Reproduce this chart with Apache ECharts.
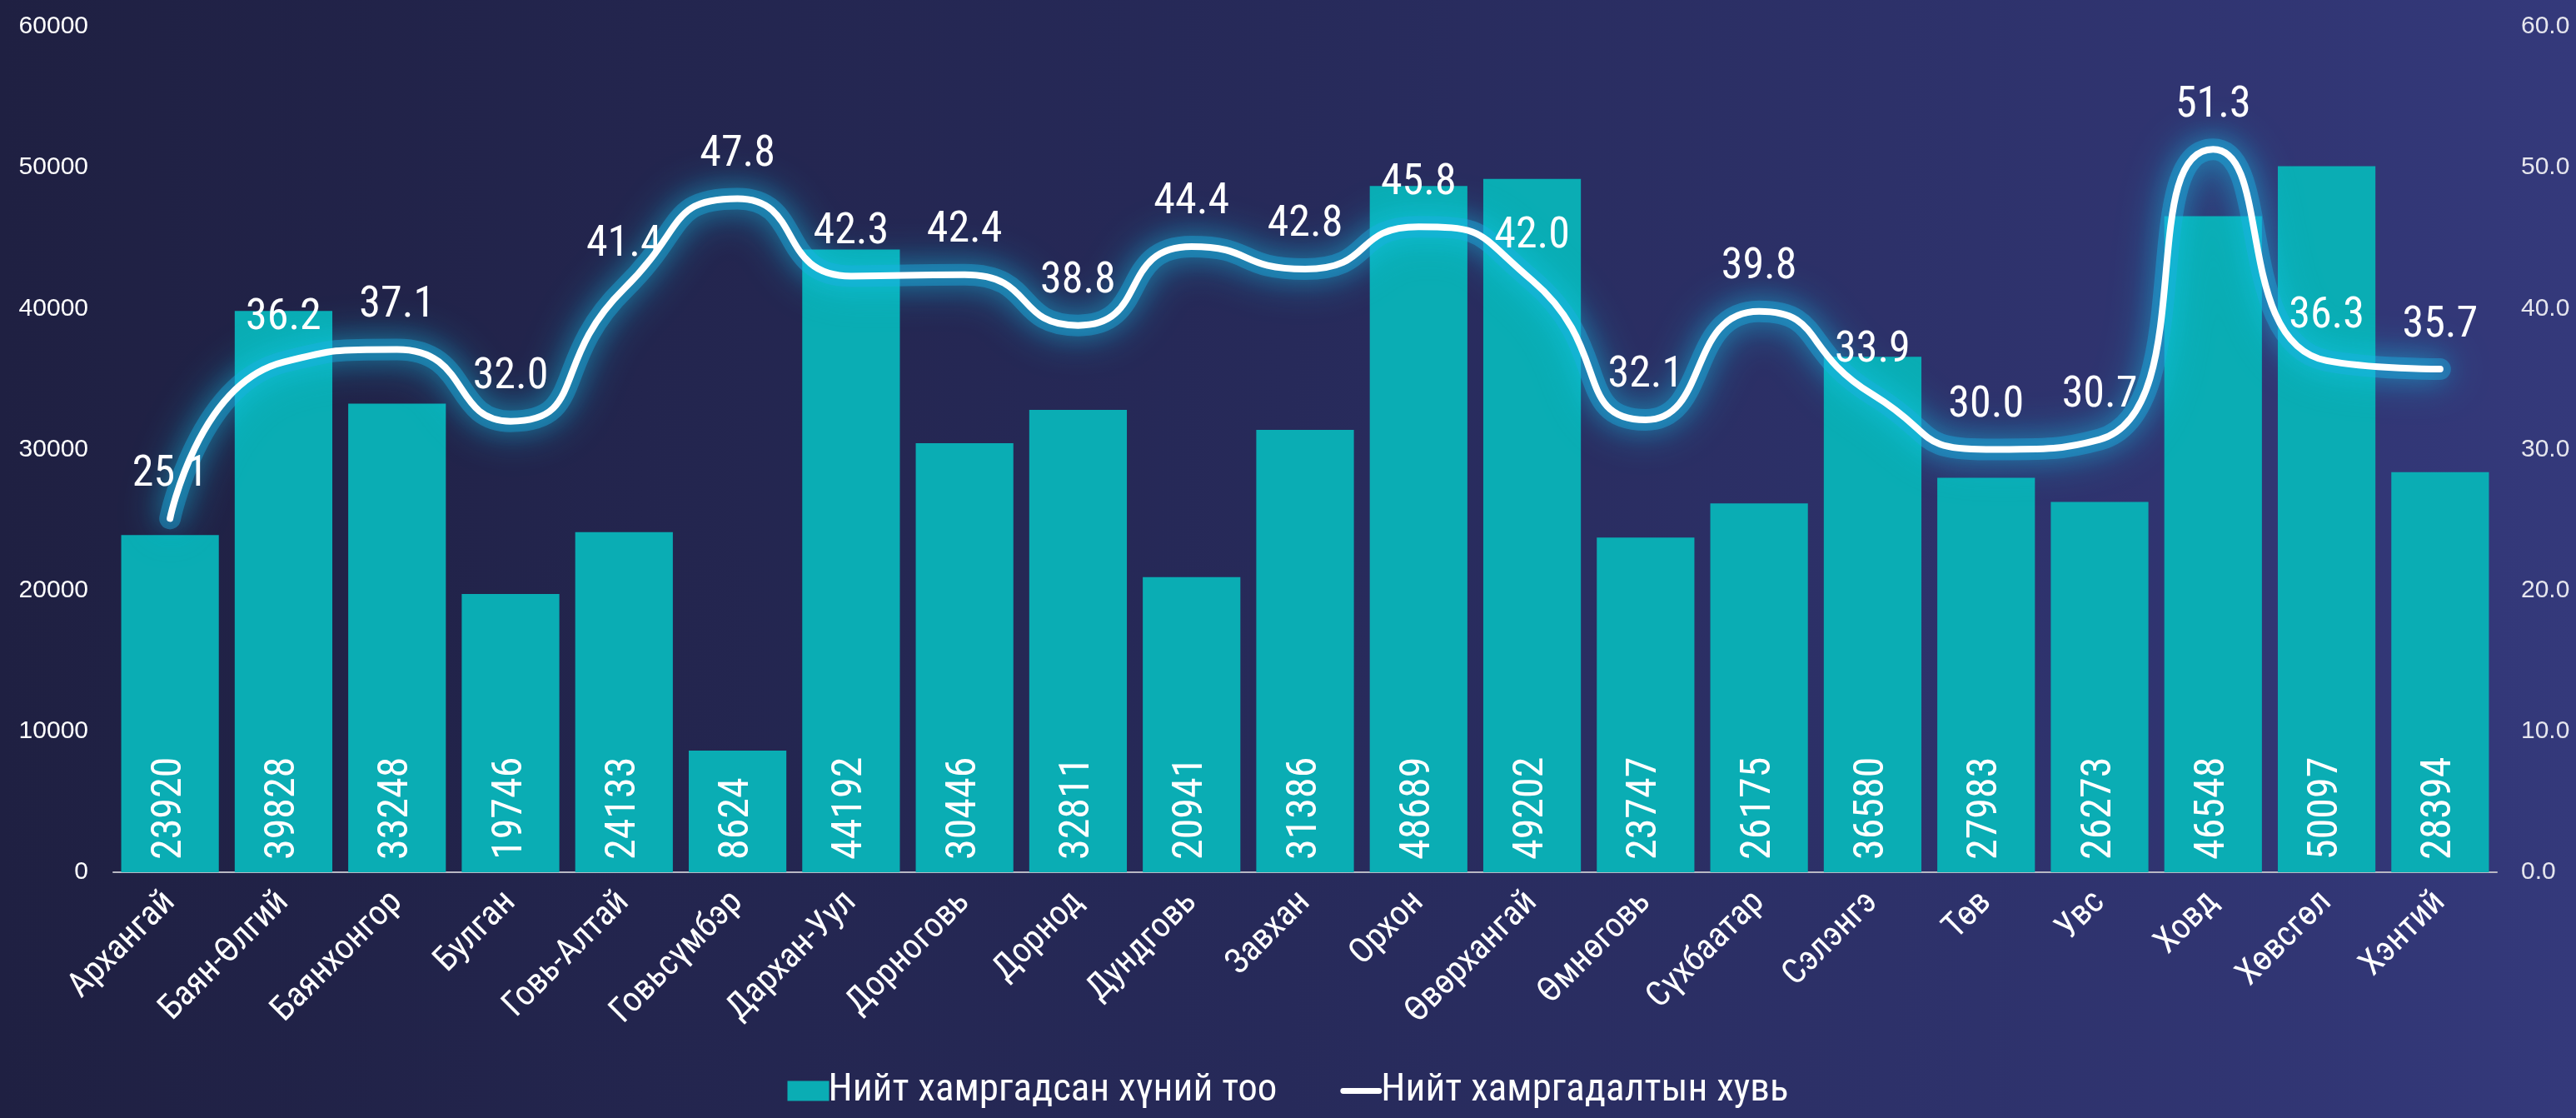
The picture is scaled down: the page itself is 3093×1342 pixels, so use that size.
<!DOCTYPE html>
<html>
<head>
<meta charset="utf-8">
<script src="https://cdn.jsdelivr.net/npm/echarts@6/dist/echarts.min.js"></script>
<style>
    html, body {
        margin: 0;
        padding: 0;
    }
    #chart {
        width: 3093px;
        height: 1342px;
        background: linear-gradient(to right, #1f2042 0%, #272a5a 50%, #34397b 100%);
    }
</style>
</head>
<body>
<div id="chart"></div>
<script>
// аймгууд
const provinces = ['Архангай', 'Баян-Өлгий', 'Баянхонгор', 'Булган', 'Говь-Алтай', 'Говьсүмбэр', 'Дархан-Уул',
    'Дорноговь', 'Дорнод', 'Дундговь', 'Завхан', 'Орхон', 'Өвөрхангай', 'Өмнөговь', 'Сүхбаатар', 'Сэлэнгэ',
    'Төв', 'Увс', 'Ховд', 'Хөвсгөл', 'Хэнтий'];

// Нийт хамрагдсан хүний тоо
const peopleCovered = [23920, 39828, 33248, 19746, 24133, 8624, 44192, 30446, 32811, 20941, 31386,
    48689, 49202, 23747, 26175, 36580, 27983, 26273, 46548, 50097, 28394];

// Нийт хамрагдалтын хувь
const coverageRate = [25.1, 36.2, 37.1, 32.0, 41.4, 47.8, 42.3, 42.4, 38.8, 44.4, 42.8,
    45.8, 42.0, 32.1, 39.8, 33.9, 30.0, 30.7, 51.3, 36.3, 35.7];

const barName = 'Нийт хамргадсан хүний тоо';
const lineName = 'Нийт хамргадалтын хувь';

const narrowFont = '"Liberation Sans Narrow", "Roboto Condensed", "Arial Narrow", sans-serif';
const plainFont = '"Liberation Sans", Arial, sans-serif';

const chart = echarts.init(document.getElementById('chart'));

const option = {
    backgroundColor: 'transparent',
    animation: false,
    grid: {
        left: 136,
        right: 95,
        top: 32,
        bottom: 295
    },
    legend: {
        bottom: 4,
        left: 'center',
        itemWidth: 50,
        itemHeight: 24,
        itemGap: 76,
        textStyle: {
            color: '#ffffff',
            fontSize: 47,
            fontFamily: narrowFont,
            padding: [0, 0, 0, -6]
        },
        data: [
            { name: barName, icon: 'rect' },
            {
                name: lineName,
                icon: 'path://M4,0 L54,0 A4,4 0 0 1 54,8 L4,8 A4,4 0 0 1 4,0 Z',
                itemStyle: { color: '#ffffff', shadowBlur: 0 }
            }
        ]
    },
    xAxis: {
        type: 'category',
        data: provinces,
        axisLine: {
            lineStyle: { color: '#b8b8c4', width: 2 }
        },
        axisTick: { show: false },
        axisLabel: {
            interval: 0,
            rotate: 45,
            margin: 30,
            color: '#ffffff',
            fontSize: 42,
            fontFamily: narrowFont
        }
    },
    yAxis: [
        {
            type: 'value',
            min: 0,
            max: 60000,
            interval: 10000,
            splitLine: { show: false },
            axisLine: { show: false },
            axisLabel: {
                margin: 30,
                color: '#ffffff',
                fontSize: 30,
                fontFamily: plainFont,
                formatter: (v) => String(v)
            }
        },
        {
            type: 'value',
            min: 0,
            max: 60,
            interval: 10,
            splitLine: { show: false },
            axisLine: { show: false },
            axisLabel: {
                margin: 29,
                color: '#e6e6ee',
                fontSize: 30,
                fontFamily: plainFont,
                formatter: (v) => v.toFixed(1)
            }
        }
    ],
    series: [
        {
            name: barName,
            type: 'bar',
            data: peopleCovered,
            barCategoryGap: '14%',
            itemStyle: { color: '#0aadb4' },
            label: {
                show: true,
                position: 'insideBottom',
                rotate: 90,
                align: 'left',
                verticalAlign: 'middle',
                distance: 15,
                color: '#ffffff',
                fontSize: 50,
                fontFamily: narrowFont
            }
        },
        // гэрэлтэх хүрээ (glow) - шугамын доор
        {
            name: 'glow',
            type: 'line',
            yAxisIndex: 1,
            data: coverageRate,
            smooth: 0.6,
            symbol: 'none',
            silent: true,
            z: 4,
            lineStyle: {
                color: 'rgba(30, 170, 225, 0.42)',
                width: 26,
                cap: 'round',
                shadowColor: 'rgba(22, 205, 240, 1)',
                shadowBlur: 50
            }
        },
        {
            name: lineName,
            type: 'line',
            yAxisIndex: 1,
            data: coverageRate,
            smooth: 0.6,
            symbol: 'circle',
            symbolSize: 1,
            z: 5,
            lineStyle: {
                color: '#ffffff',
                width: 8,
                cap: 'round',
                shadowColor: 'rgba(22, 205, 240, 1)',
                shadowBlur: 30
            },
            itemStyle: { color: 'rgba(255, 255, 255, 0)' },
            label: {
                show: true,
                position: 'top',
                distance: 26,
                color: '#ffffff',
                fontSize: 52,
                fontFamily: narrowFont,
                formatter: (p) => p.value.toFixed(1)
            }
        }
    ]
};

chart.setOption(option);
</script>
</body>
</html>
